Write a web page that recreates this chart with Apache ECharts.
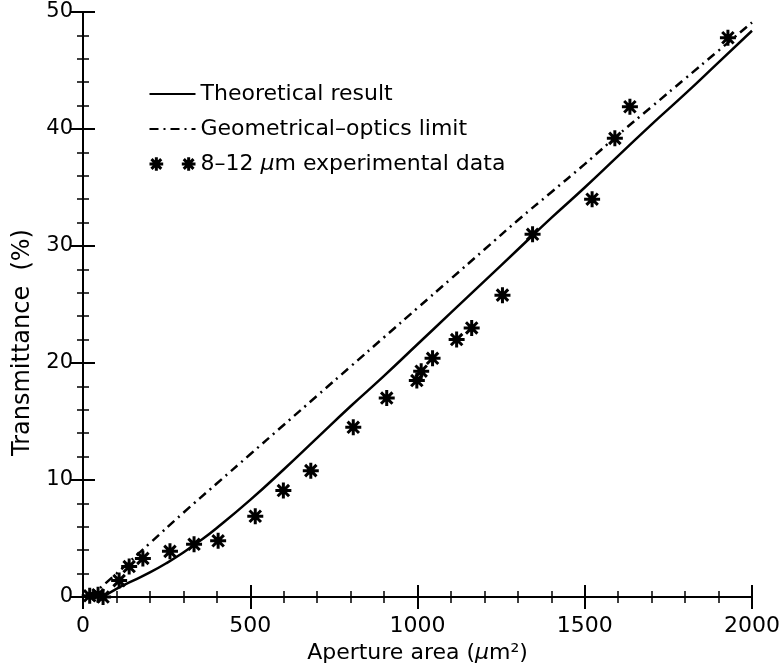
<!DOCTYPE html>
<html>
<head>
<meta charset="utf-8">
<script src="https://cdn.jsdelivr.net/npm/echarts@6/dist/echarts.min.js"></script>
<style>
    html, body { margin: 0; padding: 0; background: #fff; }
    #chart { width: 783px; height: 669px; }
</style>
</head>
<body>
<div id="chart"></div>
<script>
// 理论曲线
var theoryX = [60, 100, 150, 200, 250, 300, 350, 400, 500, 600, 700, 800, 900, 1000, 1100, 1200, 1300, 1400, 1500, 1600, 1700, 1800, 1900, 2000];
var theoryY = [0, 0.7, 1.4, 2.1, 2.9, 3.8, 4.8, 5.9, 8.3, 10.9, 13.6, 16.3, 18.9, 21.6, 24.3, 27.0, 29.7, 32.4, 35.0, 37.7, 40.4, 43.0, 45.7, 48.4];
// 几何光学极限
var geoX = [20, 100, 200, 300, 400, 500, 600, 700, 800, 900, 1000, 1100, 1200, 1300, 1400, 1500, 1600, 1700, 1800, 1900, 2000];
var geoY = [0, 2.0, 4.6, 7.2, 9.7, 12.2, 14.7, 17.2, 19.7, 22.2, 24.7, 27.2, 29.7, 32.2, 34.6, 37.0, 39.5, 41.9, 44.3, 46.7, 49.1];
// 实验数据
var expX = [20, 45, 60, 108, 138, 179, 260, 332, 404, 515, 599, 681, 808, 908, 998, 1011, 1045, 1117, 1162, 1254, 1344, 1522, 1590, 1635, 1928];
var expY = [0.1, 0.2, 0, 1.4, 2.6, 3.3, 3.9, 4.5, 4.8, 6.9, 9.1, 10.8, 14.5, 17.0, 18.5, 19.3, 20.4, 22.0, 23.0, 25.8, 31.0, 34.0, 39.2, 41.9, 47.8];

var xTicks = [0, 500, 1000, 1500, 2000];
var yTicks = [0, 10, 20, 30, 40, 50];

function pairs(xs, ys) {
    return xs.map(function (x, i) { return [x, ys[i]]; });
}

var star = 'path://M7 0L7 14M0 7L14 7M2 2L12 12M2 12L12 2';
var twoStars = 'path://M7 0L7 14M0 7L14 7M2 2L12 12M2 12L12 2M40 0L40 14M33 7L47 7M35 2L45 12M35 12L45 2';
var font = 'DejaVu Sans';

function axisBase(extra) {
    var a = {
        type: 'value',
        axisLine: { show: true, lineStyle: { color: '#000', width: 2 } },
        axisTick: { show: true, inside: true, length: 12, lineStyle: { color: '#000', width: 2 } },
        minorTick: { show: true, splitNumber: 5, length: 6, lineStyle: { color: '#000', width: 1.5 } },
        splitLine: { show: false },
        axisLabel: { show: false }
    };
    for (var k in extra) a[k] = extra[k];
    return a;
}

var myChart = echarts.init(document.getElementById('chart'));
var option = {
    animation: false,
    backgroundColor: '#fff',
    grid: { left: 83, right: 31, top: 12, bottom: 67, containLabel: false },
    legend: {
        orient: 'vertical',
        left: 143,
        top: 78,
        itemWidth: 46,
        itemHeight: 15,
        itemGap: 13,
        selectedMode: false,
        textStyle: {
            fontFamily: font, fontSize: 22, color: '#000',
            rich: { i: { fontFamily: font, fontSize: 22, fontStyle: 'italic', color: '#000' } }
        },
        data: [
            { name: 'Theoretical result', itemStyle: { color: 'rgba(0,0,0,0)', borderWidth: 0 } },
            { name: 'Geometrical–optics limit', itemStyle: { color: 'rgba(0,0,0,0)', borderWidth: 0 } },
            { name: '8–12 {i|μ}m experimental data', icon: twoStars, itemStyle: { borderWidth: 3 } }
        ]
    },
    xAxis: [
        axisBase({
            min: 0, max: 2000, interval: 500, position: 'bottom',
            axisLabel: {
                show: true, margin: 18, color: '#000', fontFamily: font, fontSize: 22,
                formatter: function (v) { return String(v); }
            },
            name: 'Aperture area ({i|μ}m²)',
            nameLocation: 'middle',
            nameGap: 45,
            nameTextStyle: {
                fontFamily: font, fontSize: 22, color: '#000',
                rich: { i: { fontFamily: font, fontSize: 22, fontStyle: 'italic', color: '#000' } }
            }
        }),
        axisBase({ min: 0, max: 2000, interval: 500, position: 'top' })
    ],
    yAxis: [
        axisBase({
            min: 0, max: 50, interval: 10, position: 'left',
            axisLabel: { show: true, margin: 10, color: '#000', fontFamily: font, fontSize: 21 },
            name: 'Transmittance  (%)',
            nameLocation: 'middle',
            nameGap: 48,
            nameTextStyle: { fontFamily: font, fontSize: 24, color: '#000', padding: [0, 76, 0, 0] }
        }),
        axisBase({ min: 0, max: 50, interval: 10, position: 'right' })
    ],
    series: [
        {
            name: 'Theoretical result',
            type: 'line',
            data: pairs(theoryX, theoryY),
            symbol: 'none',
            smooth: true,
            lineStyle: { color: '#000', width: 2.5 },
            itemStyle: { color: '#000' }
        },
        {
            name: 'Geometrical–optics limit',
            type: 'line',
            data: pairs(geoX, geoY),
            symbol: 'none',
            smooth: true,
            lineStyle: { color: '#000', width: 2.5, type: [9, 5, 2, 5] },
            itemStyle: { color: '#000' }
        },
        {
            name: '8–12 {i|μ}m experimental data',
            type: 'scatter',
            data: pairs(expX, expY),
            symbol: star,
            symbolSize: 16,
            itemStyle: { color: 'rgba(0,0,0,0)', borderColor: '#000', borderWidth: 3, opacity: 1 }
        }
    ]
};
myChart.setOption(option);
</script>
</body>
</html>
